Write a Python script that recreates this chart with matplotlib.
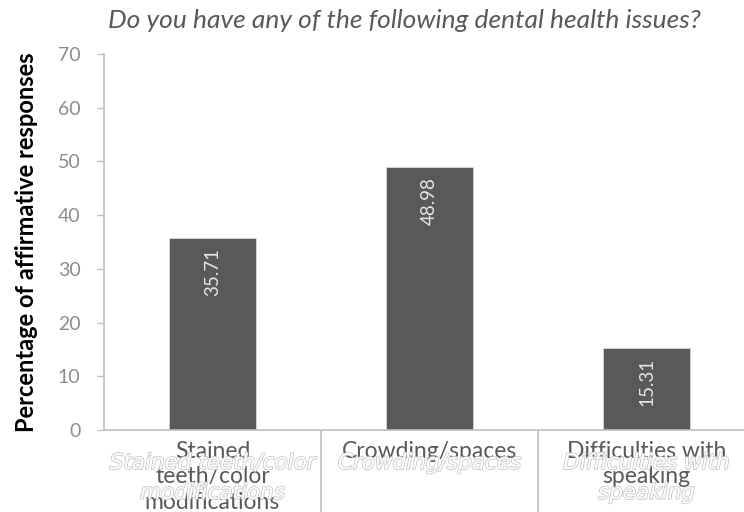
import matplotlib
matplotlib.use("Agg")
import matplotlib.pyplot as plt
import matplotlib.patheffects as pe

categories = ["Stained\nteeth/color\nmodifications", "Crowding/spaces", "Difficulties with\nspeaking"]
overlay_labels = ["Stained teeth/color\nmodifications", "Crowding/spaces", "Difficulties with\nspeaking"]
values = [35.71, 48.98, 15.31]
yticks = [0, 10, 20, 30, 40, 50, 60, 70]

plt.rcParams['font.family'] = ['Lato', 'DejaVu Sans']

fig = plt.figure(figsize=(7.44, 5.12), dpi=100)
ax = fig.add_axes([104 / 744, 1 - 430 / 512, 651 / 744, 376 / 512])

x = list(range(len(values)))
bars = ax.bar(x, values, width=0.4, color="#595959", edgecolor="#d9d9d9", linewidth=0.6)

for xi, v in zip(x, values):
    ax.annotate(f"{v:.2f}", (xi, v), xytext=(0, -7), textcoords="offset points",
                rotation=90, ha="center", va="top", color="#e6e6e6", fontsize=13.5)

ax.set_xlim(-0.5, 2.5)
ax.set_ylim(0, 70)
ax.set_yticks(yticks)
ax.tick_params(axis="y", colors="#bfbfbf", labelcolor="#8c8c8c", labelsize=14,
               length=5, width=1, pad=12)

# category labels and long separator ticks between categories
ax.set_xticks(x)
ax.set_xticklabels(categories, fontsize=16.5, color="#595959", linespacing=1.25)
ax.tick_params(axis="x", which="major", length=0, pad=8)
ax.set_xticks([0.5, 1.5], minor=True)
ax.tick_params(axis="x", which="minor", length=60, width=1.2, color="#bfbfbf")

for side in ["top", "right"]:
    ax.spines[side].set_visible(False)
for side in ["left", "bottom"]:
    ax.spines[side].set_color("#bfbfbf")
    ax.spines[side].set_linewidth(1.2)

ax.set_ylabel("Percentage of affirmative responses", fontsize=17, fontweight="bold",
              color="black")
ax.yaxis.set_label_coords(-66 / 651, 0.5)

fig.text(404 / 744, 1 - 21 / 512, "Do you have any of the following dental health issues?",
         ha="center", va="center", fontsize=19, style="italic", color="#595959")

# faint outlined label text drawn over the category area
halo = [pe.withStroke(linewidth=1.2, foreground="#c8c8c8")]
for xi, lbl in zip(x, overlay_labels):
    ax.text(xi, -23 / 376, lbl, transform=ax.get_xaxis_transform(), ha="center", va="top",
            fontsize=15.5, style="italic", color="white", family="DejaVu Sans",
            linespacing=1.62, path_effects=halo, clip_on=False)

fig.savefig("out.png", dpi=100)
